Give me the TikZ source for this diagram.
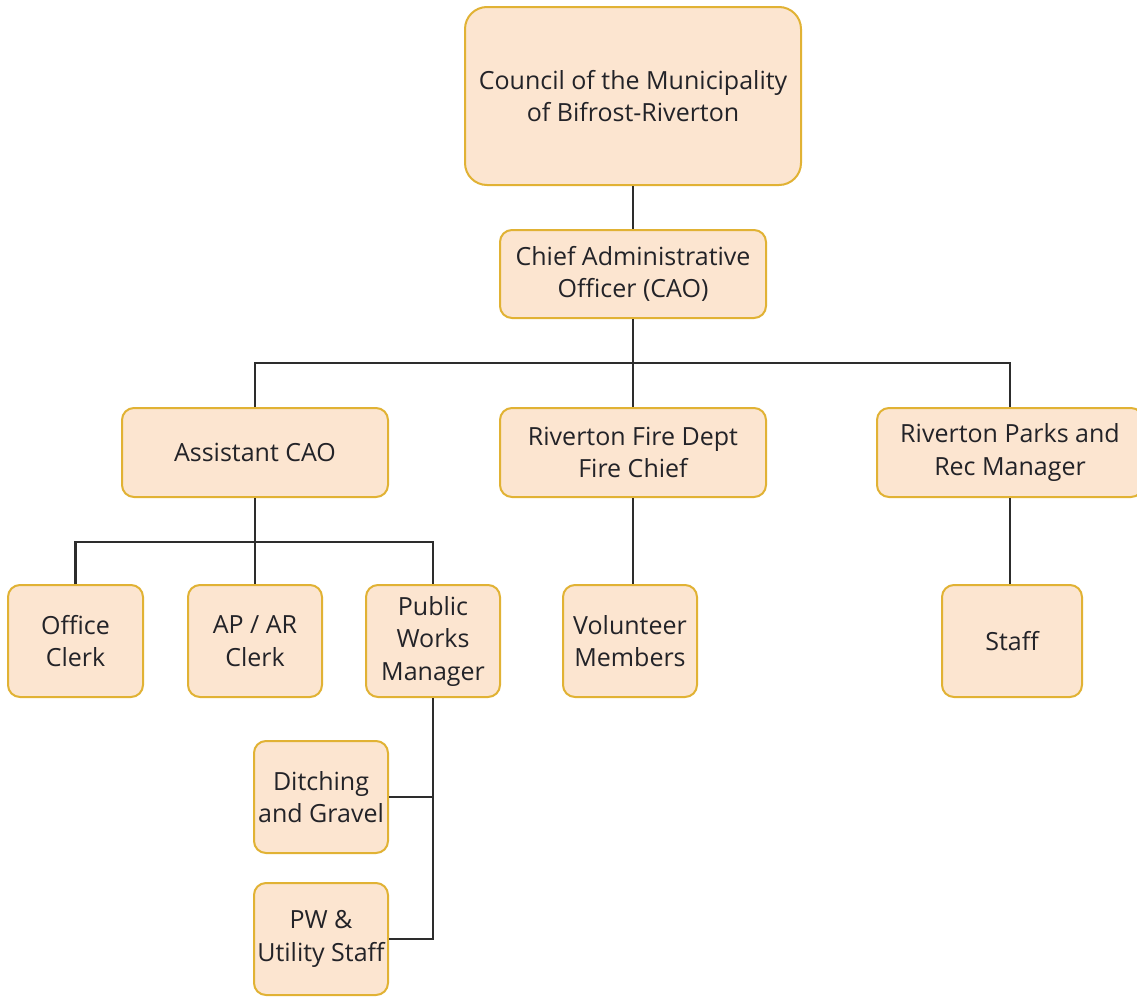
\documentclass[tikz,border=0pt]{standalone}
\usepackage{fontspec}
\setmainfont{Open Sans}
\definecolor{boxfill}{RGB}{252,229,208}
\definecolor{boxdraw}{RGB}{225,178,52}
\definecolor{linecol}{RGB}{45,45,45}
\definecolor{txt}{RGB}{35,35,40}
\begin{document}
\begin{tikzpicture}[x=1pt,y=-1pt,
  box/.style={draw=boxdraw,fill=boxfill,line width=2pt,rounded corners=12pt,
    align=center,text=txt,font=\fontsize{25}{32.5}\selectfont,inner sep=0pt},
  conn/.style={draw=linecol,line width=2.2pt}]
\useasboundingbox[fill=white] (0,0) rectangle (1137,996);
\node[box,rounded corners=22pt,minimum width=336pt,minimum height=178pt] (council) at (633,96) {Council of the Municipality\\of Bifrost-Riverton};
\node[box,minimum width=266pt,minimum height=88pt] (cao) at (633,274) {Chief Administrative\\Officer (CAO)};
\node[box,minimum width=266pt,minimum height=89pt] (acao) at (255,452.5) {Assistant CAO};
\node[box,minimum width=266pt,minimum height=89pt] (fire) at (633,452.5) {Riverton Fire Dept\\Fire Chief};
\node[box,minimum width=266pt,minimum height=89pt] (parks) at (1010,452.5) {Riverton Parks and\\Rec Manager};
\node[box,minimum width=135pt,minimum height=112pt] (office) at (75.5,641) {Office\\Clerk};
\node[box,minimum width=134pt,minimum height=112pt] (apar) at (255,641) {AP / AR\\Clerk};
\node[box,minimum width=134pt,minimum height=112pt] (pwm) at (433,641) {Public\\Works\\Manager};
\node[box,minimum width=134pt,minimum height=112pt] (vol) at (630,641) {Volunteer\\Members};
\node[box,minimum width=140pt,minimum height=112pt] (staff) at (1012,641) {Staff};
\node[box,minimum width=134pt,minimum height=112pt] (ditch) at (321,797) {Ditching\\and Gravel};
\node[box,minimum width=134pt,minimum height=112pt] (pwu) at (321,939) {PW \&\\Utility Staff};
\coordinate (b1) at (633,363);
\coordinate (b2) at (255,542);
\draw[conn] (council) -- (cao);
\draw[conn] (cao) -- (fire);
\draw[conn] (acao.north) |- (b1) -| (parks.north);
\draw[conn] (acao) -- (apar);
\draw[conn] (office.north) |- (b2) -| (pwm.north);
\draw[conn] (fire.south) -- (fire.south |- vol.north);
\draw[conn] (parks.south) -- (parks.south |- staff.north);
\draw[conn] (pwm.south) |- (pwu.east);
\draw[conn] (ditch.east) -- (ditch.east -| pwm.south);
\end{tikzpicture}
\end{document}
